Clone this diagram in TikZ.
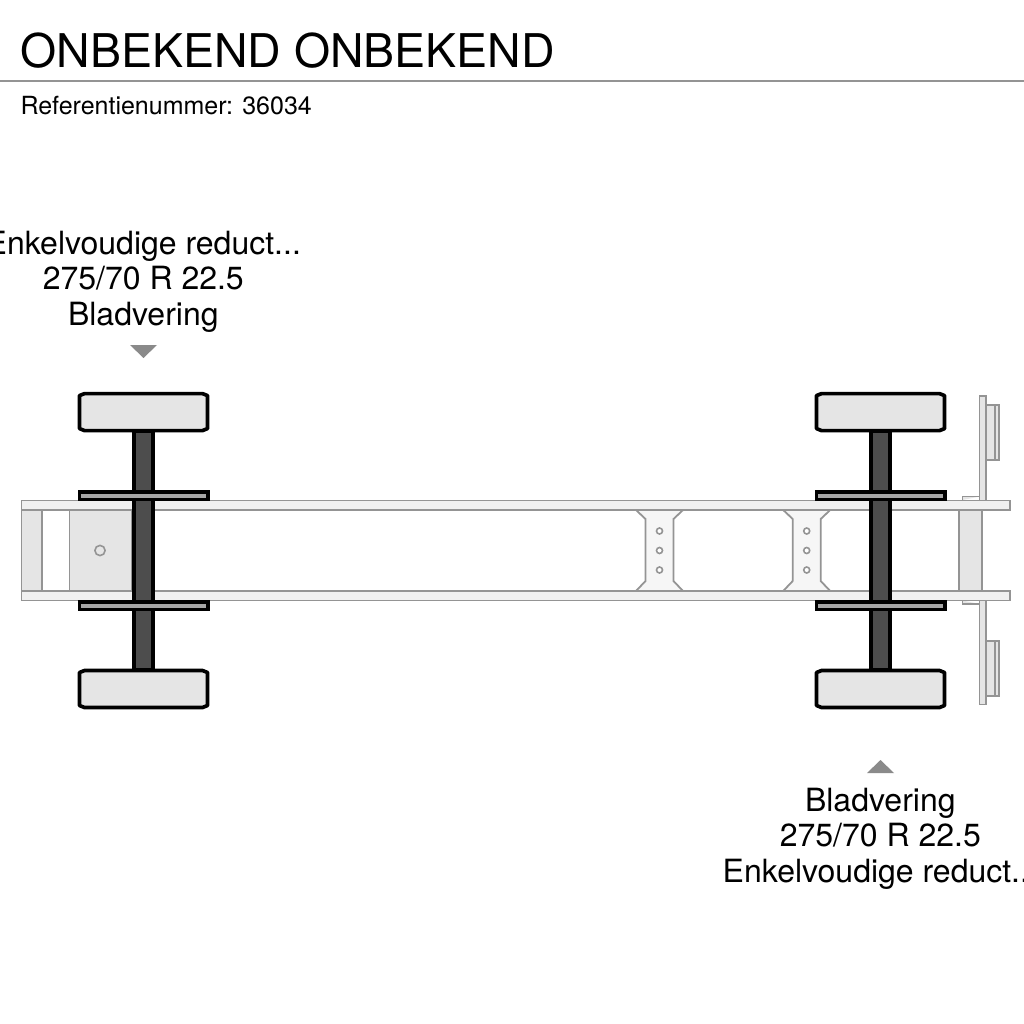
\documentclass[tikz,border=0pt]{standalone}
\usepackage{fontspec}
\setmainfont{TeX Gyre Heros}
\definecolor{frameline}{HTML}{949494}
\definecolor{railfill}{HTML}{F0F0F0}
\definecolor{partfill}{HTML}{E5E5E5}
\definecolor{axlefill}{HTML}{4D4D4D}
\definecolor{springfill}{HTML}{A6A6A6}
\definecolor{marker}{HTML}{8A8A8A}
\tikzset{
  part/.style={draw=frameline,line width=1.8pt,fill=partfill,line join=miter},
  rail/.style={draw=frameline,line width=1.8pt,fill=railfill},
  holeshape/.style={draw=frameline,line width=1.6pt,fill=white},
  tyre/.style={draw=black,line width=3.7pt,fill=partfill,line join=round},
  label/.style={font=\fontsize{32}{35.5}\selectfont,align=center,inner sep=0pt,text=black},
  markertri/.style={fill=marker,draw=none}
}
\newcommand{\crossmember}[1]{%
  \begin{scope}[xshift=#1pt]
    \draw[rail,fill=railfill!60!white] (-23.5,510) -- (-14,519) -- (-14,581) -- (-23.5,591) -- (23.5,591) -- (14,581) -- (14,519) -- (23.5,510) -- cycle;
    \foreach \yy in {531,550.5,570} \draw[holeshape] (0,\yy) circle (3pt);
  \end{scope}}
\newcommand{\axleset}[1]{%
  \begin{scope}[xshift=#1pt]
    \draw[black,line width=3.6pt,fill=axlefill] (-9.3,431) rectangle (9.3,670);
    \fill[black] (-66,490) rectangle (66,500.7);
    \fill[springfill] (-62.5,494) rectangle (62.5,498);
    \fill[black] (-66,600.3) rectangle (66,610.8);
    \fill[springfill] (-62.5,603.8) rectangle (62.5,607.6);
    \draw[tyre] (-59,393.6) -- (59,393.6) -- (64,395.6) -- (64,428.6) -- (59,430.6) -- (-59,430.6) -- (-64,428.6) -- (-64,395.6) -- cycle;
    \draw[tyre] (-59,670.5) -- (59,670.5) -- (64,672.5) -- (64,705.5) -- (59,707.5) -- (-59,707.5) -- (-64,705.5) -- (-64,672.5) -- cycle;
  \end{scope}}
\begin{document}
\begin{tikzpicture}[x=1pt,y=-1pt]
\useasboundingbox (0,0) rectangle (1024,1024);
\clip (0,0) rectangle (1024,1024);
\fill[white] (0,0) rectangle (1024,1024);
% header
\node[anchor=base west,inner sep=0pt,font=\fontsize{46.45}{50}\selectfont] (title) at (20.5,67.4) {ONBEKEND ONBEKEND};
\draw[draw=frameline,line width=1.4pt] (0,81) -- (1024,81);
\node[anchor=base west,inner sep=0pt,font=\fontsize{25}{28}\selectfont] (ref) at (20.3,114.5) {Referentienummer: 36034};
% labels
\node[label,anchor=base] (labelA) at (143.3,325.3) {Enkelvoudige reduct...\\275/70 R 22.5\\Bladvering};
\fill[markertri] (130,345) -- (157,345) -- (143.5,358) -- cycle;
\fill[markertri] (867,773) -- (894,773) -- (880.5,760) -- cycle;
\node[label,anchor=base] (labelB) at (880.3,882.3) {Bladvering\\275/70 R 22.5\\Enkelvoudige reduct...};
% rear tail-light brackets
\draw[part] (985.7,405) rectangle (999,460);
\draw[draw=frameline,line width=1.4pt] (995,405) -- (995,460);
\draw[part] (985.7,641) rectangle (999,696);
\draw[draw=frameline,line width=1.4pt] (995,641) -- (995,696);
\draw[part] (979.5,500) -- (979.5,396) -- (985.7,396) -- (985.7,500);
\draw[part] (979.5,600.5) -- (979.5,704.5) -- (985.7,704.5) -- (985.7,600.5);
\draw[part] (962.5,500) -- (962.5,496.5) -- (979.5,496.5);
\draw[part] (962.5,600.5) -- (962.5,604) -- (979.5,604);
% chassis
\draw[part] (21.5,510) rectangle (42,591);
\draw[part] (69.5,510) rectangle (132,591);
\draw[holeshape,fill=partfill] (100,550.5) circle (5.1pt);
\draw[part] (959,510) rectangle (982,591);
\crossmember{659.5}
\crossmember{806.7}
\draw[rail] (21.5,500.5) rectangle (1010,510);
\draw[rail] (21.5,591) rectangle (1010,600.5);
% axles
\axleset{143.5}
\axleset{880.5}
\end{tikzpicture}
\end{document}
